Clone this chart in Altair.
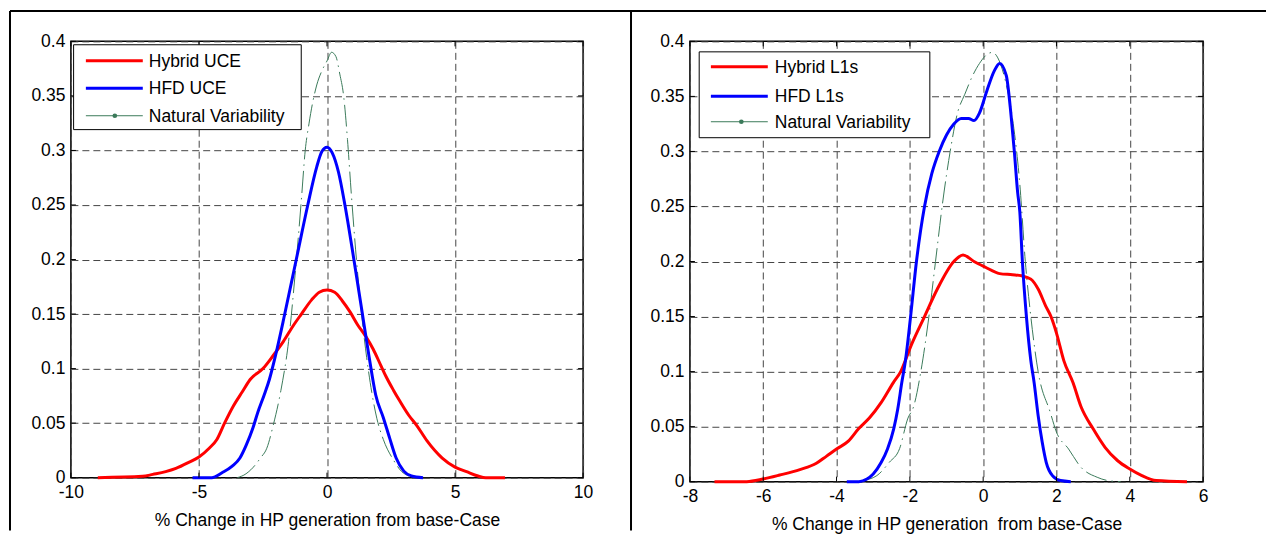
import altair as alt
import pandas as pd

FONT = "Liberation Sans"
FS = 17.5

# ---------------- shared ----------------
y_ticks = [0, 0.05, 0.1, 0.15, 0.2, 0.25, 0.3, 0.35, 0.4]
colors = ["#ff0000", "#0000ff", "#3b7a5a"]
widths = [3, 3, 1]
nat_dash = [22, 5, 1.5, 5]

# ---------------- left panel (UCE) ----------------
left_names = ["Hybrid UCE", "HFD UCE", "Natural Variability"]
left_x_ticks = [-10, -5, 0, 5, 10]
left_title = "% Change in HP generation from base-Case"

l_hyb_x = [-8.95, -7.2, -6.8, -6.3, -5.9, -5.4, -5.0, -4.6, -4.3, -4.0, -3.65, -3.3, -3.0,
           -2.5, -2.1, -1.7, -1.3, -1.0, -0.6, -0.3, 0.0, 0.3, 0.6, 0.9, 1.2, 1.5, 1.8,
           2.1, 2.3, 2.6, 2.85, 3.2, 3.5, 3.9, 4.5, 5.0, 5.45, 5.9, 6.2, 6.95]
l_hyb_y = [0.0, 0.0012, 0.003, 0.0055, 0.0085, 0.014, 0.019, 0.027, 0.035, 0.05, 0.066, 0.079, 0.09,
           0.1, 0.112, 0.125, 0.14, 0.15, 0.163, 0.17, 0.172, 0.17, 0.162, 0.152, 0.14, 0.13, 0.118,
           0.103, 0.093, 0.08, 0.07, 0.057, 0.048, 0.034, 0.018, 0.0097, 0.0055, 0.0015, 0.0, 0.0]

l_hfd_x = [-5.25, -4.5, -4.1, -3.7, -3.4, -3.15, -2.9, -2.7, -2.45, -2.25, -2.0, -1.65, -1.2,
           -0.75, -0.4, -0.2, 0.0, 0.2, 0.45, 0.7, 1.05, 1.35, 1.65, 1.9, 2.2, 2.45, 2.7, 3.0,
           3.3, 3.75]
l_hfd_y = [0.0, 0.0, 0.0045, 0.0105, 0.018, 0.03, 0.045, 0.06, 0.076, 0.09, 0.113, 0.15, 0.2,
           0.25, 0.285, 0.299, 0.303, 0.298, 0.28, 0.25, 0.2, 0.155, 0.11, 0.076, 0.055, 0.036,
           0.018, 0.006, 0.0015, 0.0]

l_nat_x = [-3.5, -3.2, -2.9, -2.6, -2.35, -2.1, -1.8, -1.5, -1.25, -1.0, -0.85, -0.7, -0.55,
           -0.4, -0.2, 0.0, 0.18, 0.35, 0.5, 0.65, 0.8, 0.95, 1.15, 1.35, 1.55, 1.75, 1.95,
           2.2, 2.6, 2.9, 3.2]
l_nat_y = [0.0, 0.003, 0.009, 0.018, 0.027, 0.048, 0.08, 0.125, 0.185, 0.255, 0.3, 0.325, 0.345,
           0.36, 0.373, 0.382, 0.39, 0.386, 0.37, 0.35, 0.31, 0.26, 0.2, 0.15, 0.11, 0.078, 0.054,
           0.035, 0.016, 0.006, 0.0015]

# ---------------- right panel (L1s) ----------------
right_names = ["Hybrid L1s", "HFD L1s", "Natural Variability"]
right_x_ticks = [-8, -6, -4, -2, 0, 2, 4, 6]
right_title = "% Change in HP generation\u00a0 from base-Case"

r_hyb_x = [-7.33, -6.45, -6.0, -5.55, -5.0, -4.55, -4.28, -4.0, -3.67, -3.4, -3.1, -2.78, -2.45,
           -2.25, -1.95, -1.6, -1.25, -0.8, -0.55, -0.25, 0.05, 0.45, 0.8, 1.05, 1.3, 1.5, 1.7,
           1.85, 2.0, 2.2, 2.45, 2.67, 3.0, 3.33, 3.67, 4.0, 4.33, 4.72, 5.56]
r_hyb_y = [0.0, 0.0, 0.0024, 0.006, 0.011, 0.0167, 0.023, 0.0297, 0.037, 0.048, 0.058, 0.072, 0.09,
           0.1, 0.125, 0.15, 0.175, 0.2, 0.206, 0.2, 0.195, 0.189, 0.188, 0.187, 0.184, 0.175, 0.16,
           0.15, 0.135, 0.11, 0.09, 0.068, 0.048, 0.031, 0.019, 0.0115, 0.0055, 0.001, 0.0]

r_hfd_x = [-3.72, -3.39, -3.17, -3.0, -2.78, -2.61, -2.44, -2.33, -2.22, -2.12, -1.98, -1.82, -1.6,
           -1.4, -1.2, -1.0, -0.8, -0.6, -0.4, -0.25, -0.1, 0.1, 0.3, 0.45, 0.63, 0.76, 0.85, 0.94,
           1.0, 1.07, 1.18, 1.3, 1.39, 1.5, 1.61, 1.72, 1.89, 2.11, 2.39]
r_hfd_y = [0.0, 0.0, 0.0024, 0.007, 0.0176, 0.0297, 0.048, 0.066, 0.09, 0.11, 0.15, 0.2, 0.25,
           0.28, 0.3, 0.315, 0.325, 0.33, 0.33, 0.328, 0.335, 0.355, 0.373, 0.38, 0.369, 0.333, 0.3,
           0.263, 0.245, 0.2, 0.15, 0.11, 0.09, 0.06, 0.036, 0.0176, 0.0055, 0.001, 0.0]

r_nat_x = [-3.3, -2.9, -2.56, -2.28, -2.06, -1.89, -1.7, -1.5, -1.3, -1.1, -0.9, -0.7, -0.5, -0.3,
           -0.1, 0.1, 0.25, 0.4, 0.6, 0.8, 1.0, 1.15, 1.3, 1.5, 1.83, 2.0, 2.33, 2.67, 3.11, 3.4, 3.75]
r_nat_y = [0.001, 0.0055, 0.0176, 0.03, 0.057, 0.069, 0.1, 0.145, 0.2, 0.255, 0.3, 0.335, 0.352,
           0.368, 0.38, 0.388, 0.39, 0.385, 0.365, 0.33, 0.27, 0.2, 0.15, 0.1, 0.063, 0.045, 0.0297,
           0.013, 0.004, 0.001, 0.0]

TICK_LEN = 5


def one_row(**kw):
    return pd.DataFrame({k: [v] for k, v in kw.items()})


def panel(curves, names, xdom, xticks, title, w, h, leg, borders=False):
    xscale = alt.Scale(domain=xdom, nice=False, zero=False)
    yscale = alt.Scale(domain=[0, 0.4], nice=False, zero=False)
    xenc = alt.X("x:Q", scale=xscale,
                 axis=alt.Axis(values=xticks, title=title, labelExpr="'' + datum.value",
                               labelFlush=False, labelOverlap=False, titlePadding=10))
    yenc = alt.Y("y:Q", scale=yscale,
                 axis=alt.Axis(values=y_ticks, title=None, labelExpr="'' + datum.value",
                               labelOverlap=False))
    layers = []
    # draw order: natural variability underneath, then hybrid, then HFD
    for idx in [2, 0, 1]:
        xs, ys = curves[idx]
        df = pd.DataFrame({"x": xs, "y": ys, "series": names[idx]})
        kw = dict(color=colors[idx], strokeWidth=widths[idx], interpolate="monotone")
        if idx == 2:
            kw["strokeDash"] = nat_dash
        layers.append(alt.Chart(df).mark_line(**kw).encode(x=xenc, y=yenc))

    # inward tick marks on all four sides (MATLAB style)
    xt = pd.DataFrame({"x": xticks})
    yt = pd.DataFrame({"y": y_ticks})
    tick = dict(color="black", strokeWidth=1)
    layers.append(alt.Chart(xt).mark_rule(**tick).encode(
        x=alt.X("x:Q", scale=xscale), y=alt.value(h), y2=alt.value(h - TICK_LEN)))
    layers.append(alt.Chart(xt).mark_rule(**tick).encode(
        x=alt.X("x:Q", scale=xscale), y=alt.value(0), y2=alt.value(TICK_LEN)))
    layers.append(alt.Chart(yt).mark_rule(**tick).encode(
        y=alt.Y("y:Q", scale=yscale), x=alt.value(0), x2=alt.value(TICK_LEN)))
    layers.append(alt.Chart(yt).mark_rule(**tick).encode(
        y=alt.Y("y:Q", scale=yscale), x=alt.value(w), x2=alt.value(w - TICK_LEN)))

    # legend box (MATLAB style, inside the axes)
    bx0, by0, bw, bh, rows, lx0, llen, tx, dotx = leg
    layers.append(alt.Chart(one_row(a=0)).mark_rect(fill="white", stroke="black", strokeWidth=1).encode(
        x=alt.value(bx0), x2=alt.value(bx0 + bw), y=alt.value(by0), y2=alt.value(by0 + bh)))
    for i, nm in enumerate(names):
        layers.append(alt.Chart(one_row(a=0)).mark_rule(color=colors[i], strokeWidth=widths[i]).encode(
            x=alt.value(lx0), x2=alt.value(lx0 + llen), y=alt.value(rows[i])))
        layers.append(alt.Chart(one_row(label=nm)).mark_text(
            align="left", baseline="middle", font=FONT, fontSize=FS, color="black").encode(
            x=alt.value(tx), y=alt.value(rows[i] + 1), text="label:N"))
    layers.append(alt.Chart(one_row(a=0)).mark_point(filled=True, size=22, color=colors[2], opacity=1).encode(
        x=alt.value(dotx), y=alt.value(rows[2])))

    if borders:
        # outer frame of the figure: left edge, top edge and divider between the two panels
        layers.append(alt.Chart(one_row(a=0)).mark_rule(color="black", strokeWidth=2).encode(
            x=alt.value(-61), y=alt.value(-30.5), y2=alt.value(490)))
        layers.append(alt.Chart(one_row(a=0)).mark_rule(color="black", strokeWidth=2).encode(
            x=alt.value(-61), x2=alt.value(1197), y=alt.value(-30.5)))
        layers.append(alt.Chart(one_row(a=0)).mark_rule(color="black", strokeWidth=2).encode(
            x=alt.value(561), y=alt.value(-30.5), y2=alt.value(490)))

    return alt.layer(*layers).properties(width=w, height=h)


left = panel([(l_hyb_x, l_hyb_y), (l_hfd_x, l_hfd_y), (l_nat_x, l_nat_y)], left_names,
             [-10, 10], left_x_ticks, left_title, 513, 437,
             (2.7, 3.4, 228, 85, [19.5, 47, 74.5], 15, 57, 78, 44), borders=True)
right = panel([(r_hyb_x, r_hyb_y), (r_hfd_x, r_hfd_y), (r_nat_x, r_nat_y)], right_names,
              [-8, 6], right_x_ticks, right_title, 514, 441,
              (9.3, 10.5, 231, 86, [25.5, 55, 80.5], 21, 57, 85, 51.5))

chart = alt.hconcat(left, right, spacing=107, bounds="flush").properties(
    padding=0
).configure_view(
    stroke="black", strokeWidth=1.5
).configure_axis(
    labelFont=FONT, labelFontSize=FS, titleFont=FONT, titleFontSize=FS,
    titleFontWeight="normal", labelColor="black", titleColor="black",
    domain=False, ticks=False, labelPadding=6,
    gridColor="#444444", gridDash=[7, 4], gridWidth=1, gridOpacity=1
)

chart.save("out.html", embed_options={"renderer": "svg", "actions": False})
